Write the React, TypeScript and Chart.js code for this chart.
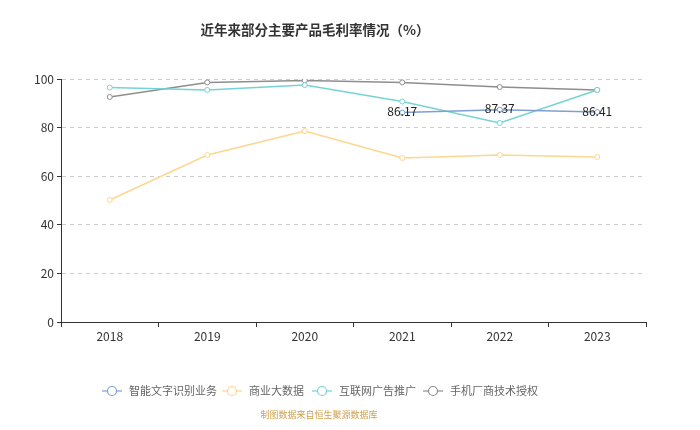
import React, { useEffect, useRef } from "react";
import { Chart, registerables } from "chart.js";

Chart.register(...registerables);

const TITLE = "近年来部分主要产品毛利率情况（%）";
const SOURCE = "制图数据来自恒生聚源数据库";
const YEARS = ["2018", "2019", "2020", "2021", "2022", "2023"];
const SERIES_NAMES = ["智能文字识别业务", "商业大数据", "互联网广告推广", "手机厂商技术授权"];
const OCR = [null, null, null, 86.17, 87.37, 86.41];
const BIGDATA = [50.2, 68.7, 78.6, 67.5, 68.7, 67.9];
const ADS = [96.5, 95.5, 97.5, 90.7, 81.9, 95.5];
const LICENSE = [92.6, 98.6, 99.4, 98.6, 96.7, 95.5];
const COLORS = ["#7f9fd3", "#fdd68f", "#76d3d5", "#8e8e8e"];
const FONT = "'Noto Sans CJK SC', 'Noto Sans', sans-serif";

const overlay = {
  id: "overlay",
  afterDatasetsDraw(chart: any) {
    const ctx = chart.ctx;
    ctx.save();
    const meta = chart.getDatasetMeta(0);
    ctx.font = `12px ${FONT}`;
    ctx.fillStyle = "#222";
    ctx.textAlign = "center";
    ctx.textBaseline = "middle";
    meta.data.forEach((pt: any, i: number) => {
      const v = chart.data.datasets[0].data[i];
      if (v == null) return;
      ctx.fillText(v.toFixed(2), pt.x, pt.y - 1);
    });
    ctx.restore();
  },
  afterDraw(chart: any) {
    const ctx = chart.ctx;
    ctx.save();
    // title
    ctx.font = `bold 13.5px ${FONT}`;
    ctx.fillStyle = "#333";
    ctx.textAlign = "center";
    ctx.textBaseline = "middle";
    ctx.fillText(TITLE, 315, 30);
    // legend
    const xs = [102, 222, 312, 423];
    const y = 391;
    chart.data.datasets.forEach((ds: any, i: number) => {
      const x = xs[i];
      ctx.strokeStyle = ds.borderColor;
      ctx.lineWidth = 1.2;
      ctx.beginPath();
      ctx.moveTo(x, y);
      ctx.lineTo(x + 20, y);
      ctx.stroke();
      ctx.beginPath();
      ctx.arc(x + 10, y, 4.5, 0, Math.PI * 2);
      ctx.fillStyle = "#fff";
      ctx.fill();
      ctx.stroke();
      ctx.font = `11px ${FONT}`;
      ctx.fillStyle = "#666";
      ctx.textAlign = "left";
      ctx.textBaseline = "middle";
      ctx.fillText(ds.label, x + 27, y);
    });
    // source
    ctx.font = `9px ${FONT}`;
    ctx.fillStyle = "#d0a050";
    ctx.textAlign = "center";
    ctx.fillText(SOURCE, 319, 415);
    ctx.restore();
  },
};

export default function App() {
  const ref = useRef<HTMLCanvasElement>(null);
  useEffect(() => {
    document.body.style.margin = "0";
    const series = [OCR, BIGDATA, ADS, LICENSE];
    const chart = new Chart(ref.current!, {
      type: "line",
      data: {
        labels: YEARS,
        datasets: series.map((d, i) => ({
          label: SERIES_NAMES[i],
          data: d as any,
          borderColor: COLORS[i],
          backgroundColor: "#fff",
          pointBackgroundColor: "#fff",
          pointBorderColor: COLORS[i],
          pointRadius: 2.5,
          pointBorderWidth: 1,
          borderWidth: 1.5,
          tension: 0,
          spanGaps: false,
        })),
      },
      options: {
        animation: false,
        responsive: false,
        layout: { padding: { top: 79, right: 54, left: 0, bottom: 0 } },
        plugins: { legend: { display: false }, tooltip: { enabled: false }, title: { display: false } },
        scales: {
          x: {
            offset: true,
            grid: { offset: true, drawOnChartArea: false, drawTicks: true, tickLength: 5, tickColor: "#333" },
            border: { display: true, color: "#333", width: 1 },
            ticks: { color: "#333", font: { size: 12, family: FONT }, padding: 2 },
            afterFit: (s: any) => { s.height = 108; },
          },
          y: {
            min: 0,
            max: 100,
            ticks: { stepSize: 20, color: "#333", font: { size: 12, family: FONT }, padding: 3 },
            grid: { color: "#ccc", tickLength: 4, tickColor: "#333" } as any,
            border: { display: true, color: "#333", width: 1, dash: [4, 4] } as any,
            afterFit: (s: any) => { s.width = 61; },
          },
        },
      },
      plugins: [overlay],
    });
    return () => chart.destroy();
  }, []);
  return (
    <div style={{ width: 700, height: 430 }}>
      <canvas ref={ref} width={700} height={430} style={{ width: 700, height: 430, display: "block" }} />
    </div>
  );
}
